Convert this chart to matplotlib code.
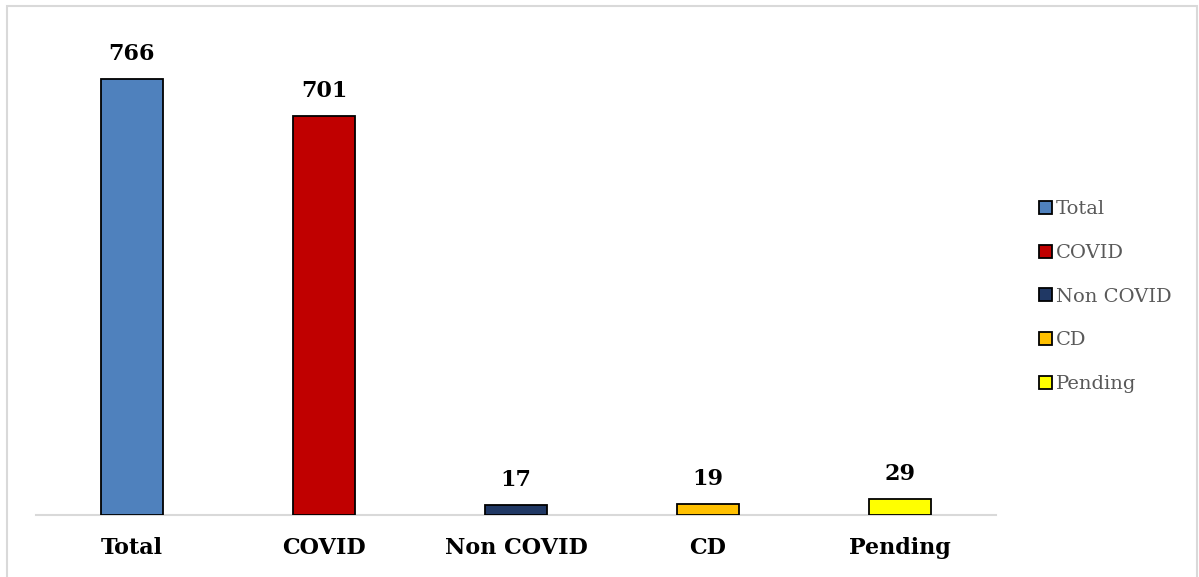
import matplotlib.pyplot as plt
from matplotlib.patches import Rectangle

categories = ['Total', 'COVID', 'Non COVID', 'CD', 'Pending']
counts = [766, 701, 17, 19, 29]
colors = ['#4F81BD', '#C00000', '#203864', '#FFC000', '#FFFF00']

plt.rcParams['font.family'] = ['DejaVu Serif']

fig = plt.figure(figsize=(11.99, 5.77), dpi=100)
ax = fig.add_axes([36 / 1199, 62 / 577, 960 / 1199, 455 / 577])

# light frame around the chart area (open at the bottom)
fig.patches.append(Rectangle((7 / 1199, -0.1), 1190 / 1199, 1.1 - 6 / 577,
                             transform=fig.transFigure, fill=False,
                             edgecolor='#d9d9d9', linewidth=1.5))

for i, (cat, val, col) in enumerate(zip(categories, counts, colors)):
    ax.bar(i, val, width=0.32, color=col, edgecolor='black', linewidth=1.3,
           label=cat, zorder=3)
    ax.annotate(str(val), (i, val), xytext=(0, 10), textcoords='offset points',
                ha='center', va='bottom', fontsize=16, fontweight='bold')

ax.set_xlim(-0.5, 4.5)
ax.set_ylim(0, 800)
ax.set_xticks(range(len(categories)))
ax.set_xticklabels(categories, fontsize=16, fontweight='bold')
ax.tick_params(axis='x', length=0, pad=16)
ax.set_yticks([])
for side in ['top', 'right', 'left']:
    ax.spines[side].set_visible(False)
ax.spines['bottom'].set_color('#d9d9d9')
ax.spines['bottom'].set_linewidth(1.5)

leg = ax.legend(loc='center left', bbox_to_anchor=(1.027, 0.48), frameon=False,
                fontsize=14, handlelength=0.65, handleheight=0.65,
                handletextpad=0.2, labelspacing=1.32, labelcolor='#595959')

fig.savefig('out.png', dpi=100)
